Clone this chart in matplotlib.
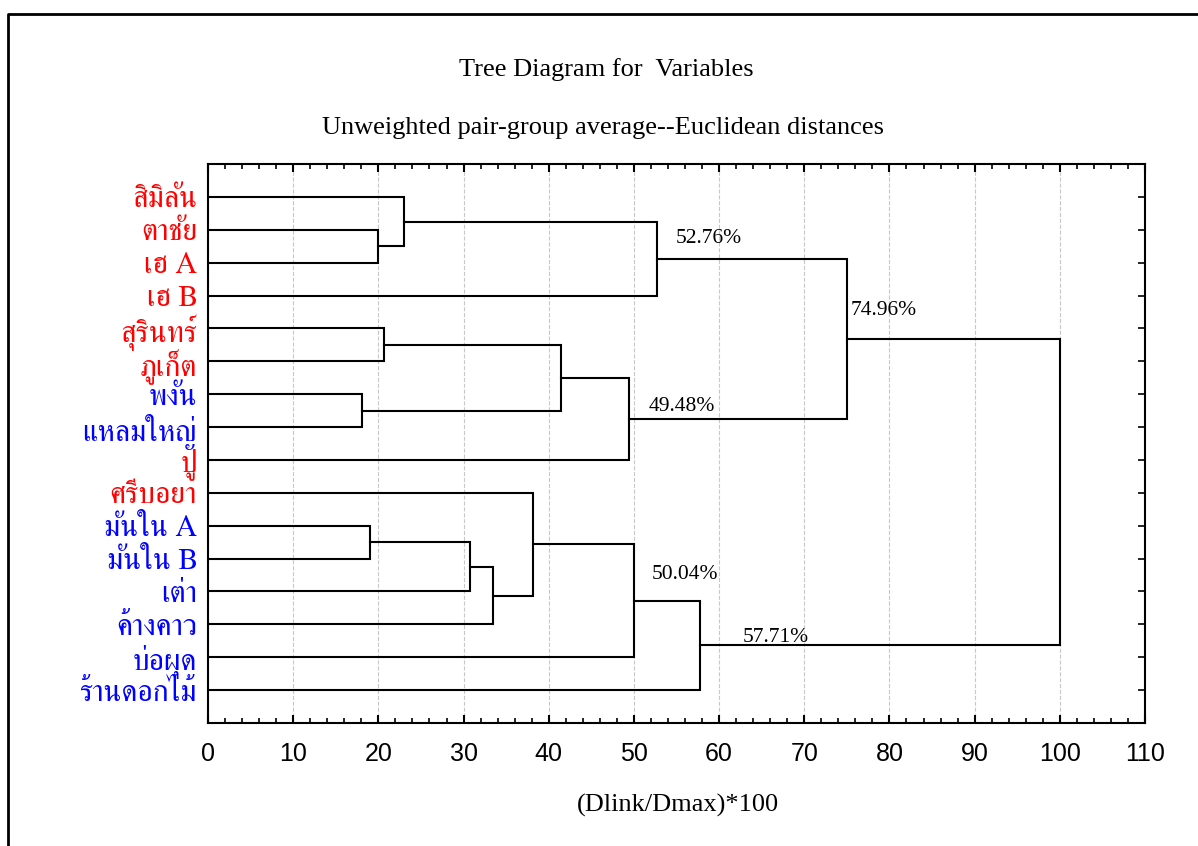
import matplotlib

matplotlib.use("Agg")
import matplotlib.pyplot as plt
from matplotlib import font_manager
from matplotlib.ft2font import FT2Font
from matplotlib.lines import Line2D
from matplotlib.ticker import MultipleLocator

# leaves, top to bottom
labels = ["สิมิลัน", "ตาชัย", "เฮ A", "เฮ B", "สุรินทร์", "ภูเก็ต", "พงัน",
          "แหลมใหญ่", "ปู", "ศรีบอยา", "มันใน A", "มันใน B", "เต่า",
          "ค้างคาว", "บ่อผุด", "ร้านดอกไม้"]
label_colors = ["red", "red", "red", "red", "red", "red", "blue", "blue",
                "red", "red", "blue", "blue", "blue", "blue", "blue", "blue"]

# joins: (child a, child b, linkage distance); ids >= 16 are earlier joins
merges = [
    (1, 2, 20.0),
    (0, 16, 23.0),
    (17, 3, 52.76),
    (4, 5, 20.7),
    (6, 7, 18.1),
    (19, 20, 41.4),
    (21, 8, 49.48),
    (18, 22, 74.96),
    (10, 11, 19.0),
    (24, 12, 30.8),
    (25, 13, 33.5),
    (9, 26, 38.1),
    (27, 14, 50.04),
    (28, 15, 57.71),
    (23, 29, 100.0),
]
# joins whose distance is written on the chart
annotated = [2, 6, 7, 12, 13]


def thai_font():
    """Installed font with Thai glyphs, regular serif faces first."""
    found = []
    for path in sorted(font_manager.findSystemFonts()):
        try:
            f = FT2Font(path)
            if 0x0E01 not in f.get_charmap():
                continue
        except Exception:
            continue
        score = 0
        if f.style_name.lower() in ("regular", "book", "roman"):
            score += 2
        if "serif" in f.family_name.lower() and "sans" not in f.family_name.lower():
            score += 1
        found.append((-score, path))
    if not found:
        return None
    return font_manager.FontProperties(fname=sorted(found)[0][1])


n = len(labels)
ypos = {i: i + 1 for i in range(n)}
xpos = {i: 0.0 for i in range(n)}

fig = plt.figure(figsize=(11.98, 8.46), dpi=100)
ax = fig.add_axes([208 / 1198, 1 - 723 / 846, 937 / 1198, 559 / 846])

for k, (a, b, h) in enumerate(merges):
    node = n + k
    ax.plot([xpos[a], h, h, xpos[b]], [ypos[a], ypos[a], ypos[b], ypos[b]],
            color="black", lw=1.5, solid_joinstyle="miter")
    ypos[node] = (ypos[a] + ypos[b]) / 2
    xpos[node] = h

# label placement (pixels right of the join, pixels above the line)
offsets = {2: (18, 20), 6: (19, 12), 7: (4, 28), 12: (17, 26), 13: (43, 8)}
for k in annotated:
    h = merges[k][2]
    dx, dy = offsets[k]
    ax.annotate(f"{h:.2f}%", (h, ypos[n + k]), xytext=(dx, dy),
                textcoords="offset pixels", ha="left", va="center",
                family="Liberation Serif", fontsize=15.5)

ax.set_xlim(0, 110)
ax.set_ylim(n + 1, 0)
ax.xaxis.set_major_locator(MultipleLocator(10))
ax.xaxis.set_minor_locator(MultipleLocator(2))
ax.set_yticks(range(1, n + 1))
ax.tick_params(axis="x", which="major", direction="in", length=6, width=1.5,
               top=True, pad=14, labelsize=18)
ax.tick_params(axis="x", which="minor", direction="in", length=3.5, width=1.2,
               top=True)
ax.tick_params(axis="y", direction="in", length=5, width=1.2, right=True, pad=8)
for t in ax.get_xticklabels():
    t.set_family("Liberation Sans")

tf = thai_font()
ax.set_yticklabels(labels)
for t, c in zip(ax.get_yticklabels(), label_colors):
    t.set_color(c)
    if tf is not None:
        t.set_fontproperties(tf)
    t.set_fontsize(21.5)

ax.grid(True, axis="x", which="major", color="#c8c8c8", ls="--", lw=0.8)
for s in ax.spines.values():
    s.set_linewidth(1.5)

fig.text(606 / 1198, 1 - 70 / 846, "Tree Diagram for  Variables",
         ha="center", va="center", family="Liberation Serif", fontsize=19)
fig.text(603 / 1198, 1 - 128 / 846,
         "Unweighted pair-group average--Euclidean distances",
         ha="center", va="center", family="Liberation Serif", fontsize=19)
fig.text(678 / 1198, 1 - 805 / 846, "(Dlink/Dmax)*100",
         ha="center", va="center", family="Liberation Serif", fontsize=19)

# page frame, open to the right and bottom
fig.add_artist(Line2D([8 / 1198, 8 / 1198, 1.0], [0.0, 1 - 14 / 846, 1 - 14 / 846],
                      transform=fig.transFigure, color="black", lw=2))

fig.savefig("out.png", dpi=100)
